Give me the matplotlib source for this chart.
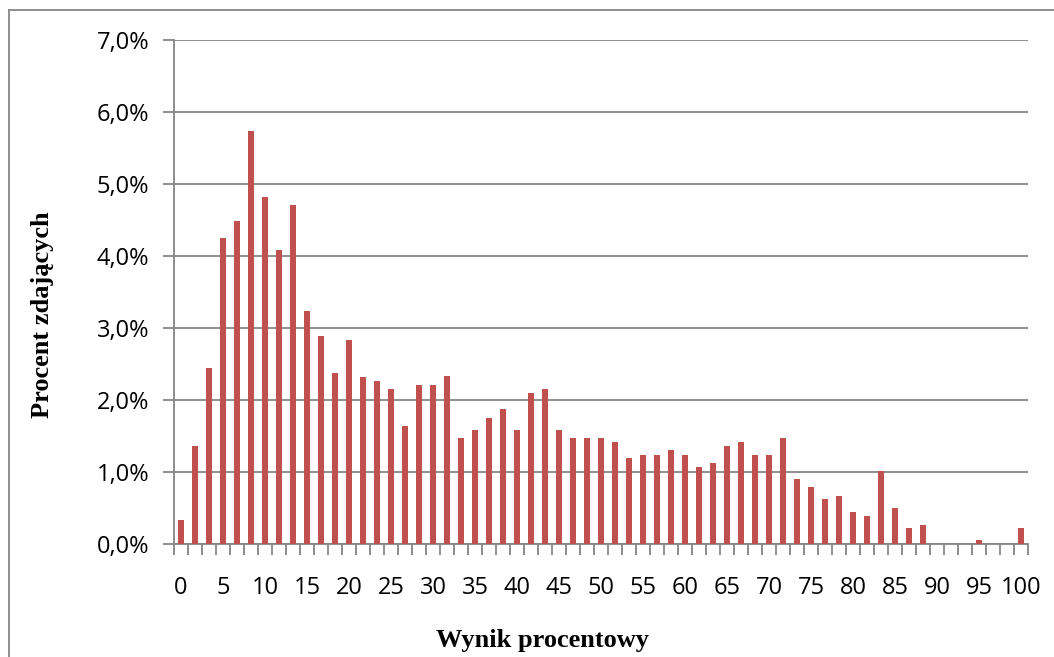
import matplotlib
matplotlib.use("Agg")
import matplotlib.pyplot as plt
from matplotlib.lines import Line2D
from matplotlib.ticker import FixedLocator, FuncFormatter
import numpy as np

# points 0..60, shown as percent of max score
points = list(range(61))
share_pct = [
    0.33, 1.36, 2.44, 4.25, 4.48, 5.73, 4.82, 4.08, 4.71, 3.23,
    2.89, 2.38, 2.84, 2.32, 2.27, 2.15, 1.64, 2.21, 2.21, 2.33,
    1.47, 1.58, 1.75, 1.87, 1.58, 2.10, 2.15, 1.58, 1.47, 1.47,
    1.47, 1.41, 1.19, 1.24, 1.24, 1.30, 1.24, 1.07, 1.13, 1.36,
    1.41, 1.24, 1.24, 1.47, 0.90, 0.79, 0.62, 0.67, 0.45, 0.39,
    1.01, 0.50, 0.22, 0.27, 0.0, 0.0, 0.0, 0.05, 0.0, 0.0,
    0.22,
]
label_points = list(range(0, 61, 3))
label_texts = [str(v) for v in range(0, 101, 5)]
y_ticks = [0, 1, 2, 3, 4, 5, 6, 7]

GRAY = "#868686"
BAR = "#C0504D"

fig = plt.figure(figsize=(10.54, 6.57), dpi=100)
ax = fig.add_axes([174 / 1054, 113 / 657, 854 / 1054, 504 / 657])

x = np.array(points)
ax.bar(x, share_pct, width=0.41, color=BAR, zorder=3)

ax.set_xlim(-0.5, 60.5)
ax.set_ylim(0, 7)

ax.set_yticks(y_ticks)
ax.yaxis.set_major_formatter(FuncFormatter(lambda v, _: f"{v:.1f}%".replace(".", ",")))
ax.grid(axis="y", color=GRAY, linewidth=1.3, zorder=1)

ax.xaxis.set_major_locator(FixedLocator(label_points))
ax.set_xticklabels(label_texts)
ax.xaxis.set_minor_locator(FixedLocator(np.arange(-0.5, 61, 1)))
ax.tick_params(axis="x", which="major", length=0, pad=23)
ax.tick_params(axis="x", which="minor", length=8, width=1.3, color=GRAY)
ax.tick_params(axis="y", length=8, width=1.3, color=GRAY, pad=10)

for lab in ax.get_xticklabels() + ax.get_yticklabels():
    lab.set_fontfamily("Open Sans")
    lab.set_fontsize(17)
    lab.set_color("black")

for side in ("top", "right"):
    ax.spines[side].set_visible(False)
for side in ("left", "bottom"):
    ax.spines[side].set_color(GRAY)
    ax.spines[side].set_linewidth(1.3)

serif_bold = dict(family="Liberation Serif", weight="bold", fontsize=19)
fig.text(543 / 1054, 1 - 640 / 657, "Wynik procentowy", ha="center", va="center", **serif_bold)
fig.text(43 / 1054, 1 - 315 / 657, "Procent zdających", ha="center", va="center",
         rotation=90, **serif_bold)

# outer chart border (only top and left visible in the original crop)
fig.add_artist(Line2D([9 / 1054, 1.0], [1 - 10 / 657, 1 - 10 / 657], color=GRAY, lw=1.3))
fig.add_artist(Line2D([9 / 1054, 9 / 1054], [0.0, 1 - 10 / 657], color=GRAY, lw=1.3))

fig.savefig("out.png", dpi=100)
